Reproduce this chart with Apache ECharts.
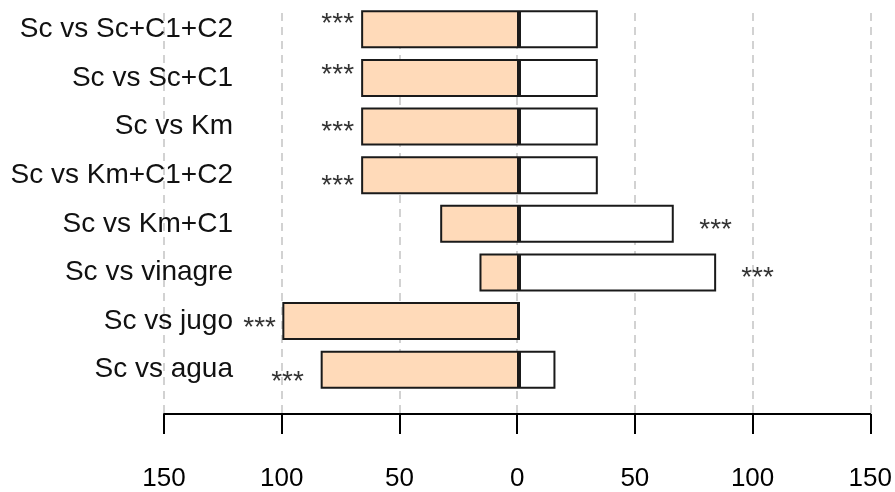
<!DOCTYPE html>
<html>
<head>
<meta charset="utf-8">
<script src="https://cdn.jsdelivr.net/npm/echarts@6/dist/echarts.min.js"></script>
<style>
html,body{margin:0;padding:0;background:#fff;}
#chart{width:895px;height:492px;}
</style>
</head>
<body>
<div id="chart"></div>
<script>
// Categories from bottom to top (as drawn by the original barplot)
const categories = ['Sc vs agua','Sc vs jugo','Sc vs vinagre','Sc vs Km+C1','Sc vs Km+C1+C2','Sc vs Km','Sc vs Sc+C1','Sc vs Sc+C1+C2'];
// Left (peach) part, plotted as negative values
const leftValues = [-83.8, -100, -16.7, -33.3, -66.7, -66.7, -66.7, -66.7];
// Right (white) part
const rightValues = [15.4, 0, 83.3, 65.4, 33.3, 33.3, 33.3, 33.3];
// Significance annotations: x in data units, y in category-index units
const sigText = ['***','***','***','***','***','***','***','***'];
const sigX = [-97.8, -109.6, 100.8, 83.1, -76.6, -76.6, -76.6, -76.6];
const sigY = [-0.14, 0.97, 2.0, 3.0, 3.89, 5.0, 6.17, 7.22];
// Axis ticks
const xMin = -150, xMax = 150, xStep = 50;

const FONT = 'Liberation Sans, Arial, sans-serif';
const chart = echarts.init(document.getElementById('chart'), null, {renderer:'canvas'});

const sigData = sigX.map((x, i) => ({value:[x, sigY[i]], name: sigText[i]}));

chart.setOption({
  animation:false,
  backgroundColor:'#ffffff',
  grid:[
    {left:164, right:21, top:5, height:389},
    {left:164, right:21, top:13, bottom:77}
  ],
  xAxis:[
    {gridIndex:0, type:'value', min:xMin, max:xMax, interval:xStep, show:false},
    {gridIndex:1, type:'value', min:xMin, max:xMax, interval:xStep,
      axisLine:{show:true, onZero:false, lineStyle:{color:'#000', width:2}},
      axisTick:{show:true, length:20, lineStyle:{color:'#000', width:2}},
      axisLabel:{show:true, margin:52, fontSize:26, color:'#000', fontFamily:FONT,
        formatter:v => String(Math.abs(v))},
      splitLine:{show:true, lineStyle:{color:'#c4c4c4', width:1.5, type:[8,6]}}
    }
  ],
  yAxis:[
    {gridIndex:0, type:'category', data:categories, offset:-77,
      axisLine:{show:false}, axisTick:{show:false}, splitLine:{show:false},
      axisLabel:{show:true, margin:8, fontSize:28, color:'#111', fontFamily:FONT}
    },
    {gridIndex:0, type:'value', min:-0.5, max:7.5, show:false, splitLine:{show:false}},
    {gridIndex:1, type:'value', min:0, max:1, show:false, splitLine:{show:false}}
  ],
  series:[
    {type:'bar', xAxisIndex:0, yAxisIndex:0, data:leftValues, barCategoryGap:'22%', barGap:'-100%',
      itemStyle:{color:'#FFDAB9', borderColor:'#1a1a1a', borderWidth:2}, silent:true, z:3},
    {type:'bar', xAxisIndex:0, yAxisIndex:0, data:rightValues, barCategoryGap:'22%', barGap:'-100%',
      itemStyle:{color:'#ffffff', borderColor:'#1a1a1a', borderWidth:2}, silent:true, z:3},
    {type:'scatter', xAxisIndex:0, yAxisIndex:1, data:sigData, symbolSize:2,
      itemStyle:{color:'rgba(255,255,255,0)'}, silent:true, z:5,
      label:{show:true, position:'inside', offset:[0,6], formatter:p => p.name,
        fontSize:28, color:'#000', fontFamily:FONT}}
  ]
});
</script>
</body>
</html>
